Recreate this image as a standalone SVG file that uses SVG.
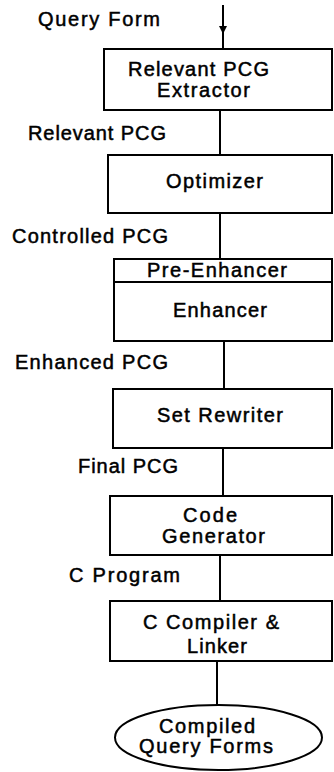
<svg xmlns="http://www.w3.org/2000/svg" width="334" height="772" viewBox="0 0 334 772">
<style>
.box{fill:none;stroke:#000;stroke-width:2}
.ln{fill:none;stroke:#000;stroke-width:2}
text{font-family:"Liberation Sans",Arial,sans-serif;font-size:20px;fill:#000;stroke:#000;stroke-width:0.5}
</style>
<defs>
<marker id="ah" markerWidth="8" markerHeight="10" refX="4" refY="5" orient="auto" markerUnits="userSpaceOnUse">
<path d="M0,1 L8,5 L0,9 Z" fill="#000"/>
</marker>
</defs>
<rect width="334" height="772" fill="#fff"/>
<g id="connectors">
<line class="ln" x1="223" y1="5" x2="223" y2="30" marker-end="url(#ah)"/>
<line class="ln" x1="223" y1="30" x2="223" y2="49"/>
<line class="ln" x1="220" y1="110" x2="220" y2="155"/>
<line class="ln" x1="220" y1="213" x2="220" y2="259"/>
<line class="ln" x1="224" y1="341" x2="224" y2="389"/>
<line class="ln" x1="223" y1="448" x2="223" y2="496"/>
<line class="ln" x1="220" y1="555" x2="220" y2="601"/>
<line class="ln" x1="217" y1="661" x2="217" y2="705"/>
</g>
<g id="labels">
<text x="38" y="26" textLength="122" lengthAdjust="spacing">Query Form</text>
<text x="28" y="140" textLength="138" lengthAdjust="spacing">Relevant PCG</text>
<text x="12" y="243" textLength="156" lengthAdjust="spacing">Controlled PCG</text>
<text x="15" y="369" textLength="153" lengthAdjust="spacing">Enhanced PCG</text>
<text x="78" y="473" textLength="100" lengthAdjust="spacing">Final PCG</text>
<text x="69" y="582" textLength="111" lengthAdjust="spacing">C Program</text>
</g>
<g id="extractor">
<rect class="box" x="104" y="49" width="228" height="61"/>
<text x="128" y="76" textLength="141" lengthAdjust="spacing">Relevant PCG</text>
<text x="157" y="97" textLength="93" lengthAdjust="spacing">Extractor</text>
</g>
<g id="optimizer">
<rect class="box" x="108" y="155" width="224" height="58"/>
<text x="166" y="188" textLength="97" lengthAdjust="spacing">Optimizer</text>
</g>
<g id="enhancer">
<rect class="box" x="114" y="259" width="218" height="82"/>
<line class="ln" x1="114" y1="282" x2="332" y2="282"/>
<text x="147" y="277" textLength="140" lengthAdjust="spacing">Pre-Enhancer</text>
<text x="173" y="317" textLength="94" lengthAdjust="spacing">Enhancer</text>
</g>
<g id="rewriter">
<rect class="box" x="113" y="389" width="219" height="59"/>
<text x="157" y="422" textLength="126" lengthAdjust="spacing">Set Rewriter</text>
</g>
<g id="codegen">
<rect class="box" x="110" y="496" width="222" height="59"/>
<text x="183" y="522" textLength="54" lengthAdjust="spacing">Code</text>
<text x="162" y="543" textLength="103" lengthAdjust="spacing">Generator</text>
</g>
<g id="compiler">
<rect class="box" x="110" y="601" width="222" height="60"/>
<text x="143" y="629" textLength="136" lengthAdjust="spacing">C Compiler &amp;</text>
<text x="187" y="653" textLength="60" lengthAdjust="spacing">Linker</text>
</g>
<g id="output">
<ellipse class="box" cx="218.5" cy="737.5" rx="103.5" ry="32.5"/>
<text x="159" y="733" textLength="96" lengthAdjust="spacing">Compiled</text>
<text x="139" y="753" textLength="134" lengthAdjust="spacing">Query Forms</text>
</g>
</svg>
